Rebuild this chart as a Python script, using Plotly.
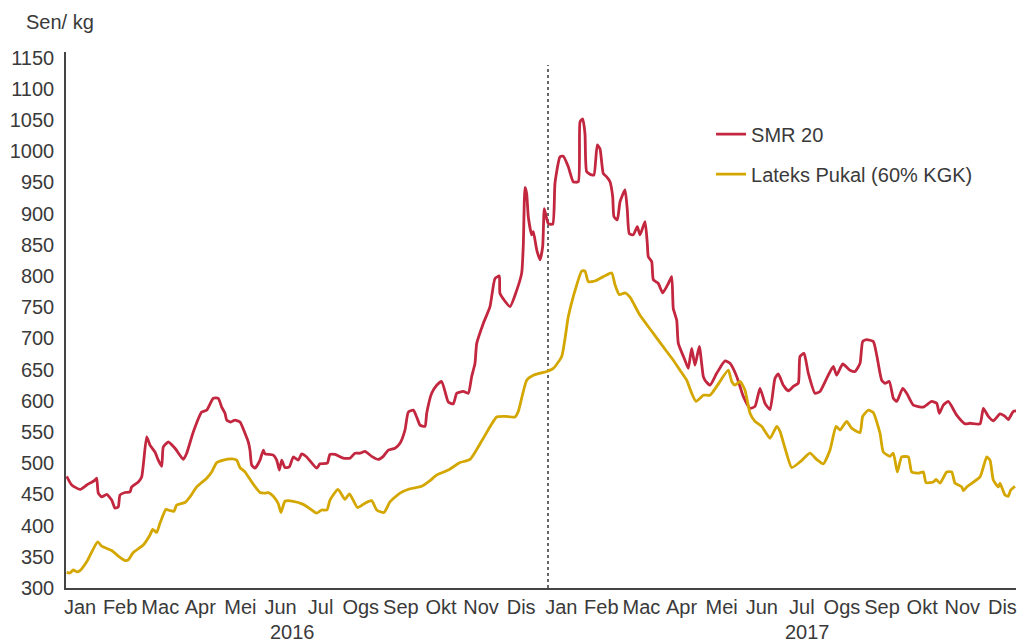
import plotly.graph_objects as go

# x = position in months from start of Jan 2016 (0 = 1 Jan 2016, 12 = 1 Jan 2017)
smr_x = [0.167, 0.292, 0.499, 0.666, 0.873, 0.915, 0.955, 1.040, 1.165, 1.289, 1.372, 1.454, 1.496, 1.621,
         1.746, 1.788, 1.953, 2.037, 2.162, 2.244, 2.369, 2.451, 2.536, 2.576, 2.701, 2.868, 3.075, 3.160,
         3.324, 3.534, 3.658, 3.823, 3.948, 4.032, 4.115, 4.157, 4.257, 4.364, 4.489, 4.613, 4.696, 4.738,
         4.780, 4.863, 4.988, 5.070, 5.112, 5.320, 5.404, 5.469, 5.529, 5.611, 5.718, 5.818, 5.943, 6.027,
         6.152, 6.401, 6.484, 6.666, 6.733, 6.858, 7.065, 7.232, 7.357, 7.481, 7.606, 7.773, 7.938, 8.062,
         8.187, 8.354, 8.479, 8.603, 8.686, 8.810, 8.895, 8.978, 9.102, 9.145, 9.269, 9.394, 9.519, 9.683,
         9.808, 9.893, 10.057, 10.182, 10.267, 10.349, 10.392, 10.556, 10.723, 10.848, 10.955, 10.973,
         11.222, 11.389, 11.514, 11.554, 11.596, 11.638, 11.678, 11.763, 11.803, 11.888, 11.970, 12.037,
         12.077, 12.132, 12.177, 12.287, 12.344, 12.469, 12.551, 12.676, 12.800, 12.925, 12.968, 13.035,
         13.092, 13.135, 13.259, 13.317, 13.399, 13.466, 13.549, 13.633, 13.716, 13.783, 13.815, 13.898,
         13.965, 14.090, 14.147, 14.197, 14.297, 14.397, 14.464, 14.589, 14.646, 14.671, 14.756, 14.796,
         14.920, 15.030, 15.170, 15.254, 15.294, 15.379, 15.419, 15.586, 15.668, 15.753, 15.835, 15.943,
         16.042, 16.085, 16.209, 16.376, 16.584, 16.708, 16.875, 17.040, 17.207, 17.332, 17.456, 17.581,
         17.706, 17.830, 17.913, 18.037, 18.162, 18.287, 18.411, 18.454, 18.554, 18.661, 18.828, 18.953,
         19.120, 19.284, 19.369, 19.519, 19.701, 19.825, 19.950, 20.017, 20.117, 20.282, 20.367, 20.491,
         20.574, 20.681, 20.781, 20.866, 21.015, 21.115, 21.279, 21.529, 21.738, 21.863, 21.928, 22.027,
         22.152, 22.361, 22.569, 22.693, 22.943, 23.025, 23.150, 23.274, 23.441, 23.566, 23.648, 23.773,
         23.858]
smr_y = [479, 465, 458, 465, 473, 476, 452, 446, 450, 441, 428, 430, 449, 453,
         454, 462, 470, 478, 542, 529, 518, 505, 495, 526, 534, 524, 506, 516,
         550, 582, 585, 604, 604, 590, 580, 569, 566, 569, 566, 548, 534, 521,
         497, 492, 505, 521, 515, 513, 505, 489, 505, 493, 494, 510, 505, 515,
         510, 492, 499, 500, 514, 514, 508, 508, 516, 516, 519, 511, 506, 511,
         521, 524, 532, 553, 582, 585, 574, 561, 559, 580, 612, 625, 631, 598,
         595, 612, 615, 612, 639, 660, 692, 724, 751, 796, 800, 772,
         751, 777, 805, 850, 942, 932, 895, 866, 871, 842, 826, 847,
         908, 893, 884, 883, 949, 991, 992, 975, 951, 951, 1047, 1052,
         1028, 967, 962, 962, 1010, 1004, 964, 959, 951, 927, 895, 890,
         919, 938, 906, 868, 866, 879, 866, 887, 852, 831, 823, 794,
         788, 773, 788, 799, 748, 729, 692, 665, 652, 684, 657, 687,
         639, 633, 625, 644, 664, 660, 639, 607, 588, 591, 620, 596,
         586, 636, 643, 625, 616, 623, 628, 671, 676, 644, 612, 615,
         636, 655, 641, 659, 649, 647, 660, 695, 698, 695, 673, 633,
         628, 631, 604, 599, 620, 612, 593, 590, 599, 596, 580, 593,
         599, 577, 563, 564, 563, 588, 575, 568, 579, 575, 570, 583,
         584]

latex_x = [0.167, 0.249, 0.332, 0.416, 0.499, 0.666, 0.940, 1.040, 1.289, 1.496, 1.621, 1.703, 1.828,
           2.077, 2.244, 2.312, 2.411, 2.494, 2.643, 2.743, 2.843, 2.910, 3.117, 3.242, 3.409, 3.658,
           3.783, 3.908, 4.072, 4.282, 4.406, 4.489, 4.613, 4.780, 4.988, 5.112, 5.195, 5.319, 5.444,
           5.511, 5.611, 5.818, 6.067, 6.234, 6.397, 6.526, 6.658, 6.733, 6.933, 7.107, 7.219, 7.419,
           7.606, 7.773, 7.898, 8.080, 8.229, 8.479, 8.728, 9.020, 9.227, 9.394, 9.683, 9.975, 10.224,
           10.556, 10.890, 11.097, 11.347, 11.429, 11.638, 11.803, 12.137, 12.302, 12.511, 12.676,
           12.800, 13.010, 13.092, 13.174, 13.342, 13.549, 13.758, 13.840, 13.948, 14.090, 14.214,
           14.464, 14.796, 15.130, 15.294, 15.461, 15.628, 15.753, 15.860, 15.960, 16.042, 16.209,
           16.376, 16.666, 16.751, 16.833, 16.958, 17.082, 17.207, 17.332, 17.499, 17.706, 17.873,
           17.955, 18.080, 18.247, 18.454, 18.703, 18.870, 19.035, 19.202, 19.352, 19.451, 19.618,
           19.743, 19.950, 20.017, 20.157, 20.282, 20.449, 20.531, 20.698, 20.781, 20.880, 20.990,
           21.155, 21.239, 21.404, 21.529, 21.596, 21.778, 21.845, 21.945, 22.112, 22.237, 22.319,
           22.486, 22.526, 22.611, 22.943, 23.110, 23.192, 23.274, 23.399, 23.441, 23.566, 23.648,
           23.708, 23.815]
latex_y = [325, 324, 329, 326, 328, 342, 374, 367, 360, 349, 344, 345, 357,
           369, 385, 394, 389, 404, 426, 424, 423, 433, 437, 446, 462, 476,
           486, 501, 505, 507, 505, 493, 486, 470, 453, 452, 453, 447, 435,
           421, 439, 439, 434, 427, 420, 425, 425, 441, 458, 442, 451, 429,
           436, 440, 425, 421, 438, 452, 459, 463, 472, 481, 489, 501, 506,
           540, 574, 575, 574, 583, 633, 641, 647, 652, 671, 735,
           767, 808, 808, 791, 792, 799, 805, 786, 770, 773, 766,
           737, 708, 679, 665, 649, 633, 612, 599, 604, 609, 609,
           623, 649, 631, 625, 631, 617, 580, 567, 559, 540, 559,
           551, 524, 493, 502, 516, 506, 499, 521, 559, 553, 567,
           556, 549, 575, 585, 581, 548, 518, 511, 516, 486, 510,
           510, 486, 484, 486, 469, 470, 474, 468, 486, 486, 468,
           462, 456, 462, 478, 510, 505, 473, 462, 468, 449, 447,
           457, 463]

months = ["Jan", "Feb", "Mac", "Apr", "Mei", "Jun", "Jul", "Ogs", "Sep", "Okt", "Nov", "Dis"]
month_labels = months + months
month_pos = [i + 0.5 for i in range(24)]
years = ["2016", "2017"]
year_pos = [5.79, 18.65]
y_ticks = list(range(300, 1151, 50))
year_split = 12.17

RED = "#C2273F"
GOLD = "#D4A700"
TEXT = "#3a3a3a"
FONT = "Liberation Sans, Arial, sans-serif"
FS = 20

fig = go.Figure()
fig.add_trace(go.Scatter(x=smr_x, y=smr_y, mode="lines", name="SMR 20", legendgroup="a",
                         line=dict(color=RED, width=2.8, shape="spline", smoothing=0.5)))
fig.add_trace(go.Scatter(x=latex_x, y=latex_y, mode="lines", name="Lateks Pukal (60% KGK)", legendgroup="b",
                         line=dict(color=GOLD, width=2.8, shape="spline", smoothing=0.5)))

fig.add_shape(type="line", x0=year_split, x1=year_split, y0=300, y1=1138, xref="x", yref="y",
              line=dict(color="#666666", width=2, dash="3px,3px"), layer="below")

for yr, pos in zip(years, year_pos):
    fig.add_annotation(x=pos, y=0, xref="x", yref="paper", text=yr, showarrow=False,
                       yanchor="middle", yshift=-44, font=dict(size=FS, color=TEXT, family=FONT))

fig.add_annotation(x=0, y=1, xref="paper", yref="paper", text="Sen/ kg", showarrow=False,
                   xanchor="left", yanchor="middle", xshift=-42, yshift=30,
                   font=dict(size=FS, color=TEXT, family=FONT))

fig.update_layout(
    width=1019, height=644,
    margin=dict(l=66, r=3, t=52, b=56, autoexpand=False),
    paper_bgcolor="white", plot_bgcolor="white",
    font=dict(family=FONT, size=FS, color=TEXT),
    showlegend=True,
    legend=dict(x=0.679, y=0.883, xanchor="left", yanchor="top", bgcolor="rgba(0,0,0,0)",
                font=dict(size=FS, color=TEXT, family=FONT), tracegroupgap=11,
                traceorder="grouped"),
    xaxis=dict(range=[0.15, 23.84], tickmode="array", tickvals=month_pos, ticktext=month_labels,
               showgrid=False, zeroline=False, showline=True, linecolor="#444444", linewidth=1.5,
               ticks="", tickfont=dict(size=FS, color=TEXT), ticklabelstandoff=0, automargin=False),
    yaxis=dict(range=[300, 1159], tickmode="array", tickvals=y_ticks,
               showgrid=False, zeroline=False, showline=True, linecolor="#444444", linewidth=1.5,
               ticks="", tickfont=dict(size=FS, color=TEXT), ticklabelstandoff=6, automargin=False),
)

fig.write_html("out.html", config={"displayModeBar": False},
               post_script="document.body.style.margin='0';document.body.style.overflow='hidden';")
